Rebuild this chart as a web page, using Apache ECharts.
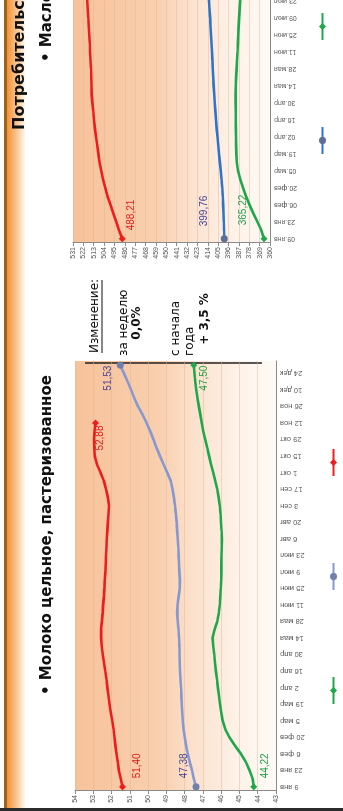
<!DOCTYPE html>
<html>
<head>
<meta charset="utf-8">
<script src="https://cdn.jsdelivr.net/npm/echarts@6/dist/echarts.min.js"></script>
<style>
  html, body { margin: 0; padding: 0; width: 343px; height: 811px; overflow: hidden; background: #fff; }
  /* the slide is laid out landscape and turned a quarter turn to stand upright */
  #slide { position: absolute; left: 0; top: 0; width: 811px; height: 343px;
           transform-origin: 0 0; transform: translateY(811px) rotate(-90deg); }
</style>
</head>
<body>
<div id="slide"></div>
<script>
// Weekly dates (Mondays) for the milk chart
const milkWeeks = ['9 янв','16 янв','23 янв','30 янв','6 фев','13 фев','20 фев','27 фев','5 мар','12 мар','19 мар','26 мар',
  '2 апр','9 апр','16 апр','23 апр','30 апр','7 мая','14 мая','21 мая','28 мая','4 июн','11 июн','18 июн','25 июн',
  '2 июл','9 июл','16 июл','23 июл','30 июл','6 авг','13 авг','20 авг','27 авг','3 сен','10 сен','17 сен','24 сен',
  '1 окт','8 окт','15 окт','22 окт','29 окт','5 ноя','12 ноя','19 ноя','26 ноя','3 дек','10 дек','17 дек','24 дек','31 дек'];

// Weekly dates for the butter chart
const butterWeeks = ['09.янв','16.янв','23.янв','30.янв','06.фев','13.фев','20.фев','27.фев','05.мар','12.мар','19.мар','26.мар',
  '02.апр','09.апр','16.апр','23.апр','30.апр','07.мая','14.мая','21.мая','28.мая','04.июн','11.июн','18.июн','25.июн',
  '02.июл','09.июл','16.июл','23.июл','30.июл','06.авг','13.авг','20.авг','27.авг','03.сен','10.сен','17.сен','24.сен',
  '01.окт','08.окт','15.окт','22.окт','29.окт','05.ноя','12.ноя','19.ноя','26.ноя','03.дек','10.дек','17.дек','24.дек','31.дек'];

// Milk, rub. per litre
const milkRed = [51.40,51.50,51.60,51.66,51.73,51.79,51.84,51.89,51.96,52.04,52.11,52.17,52.23,52.28,52.34,52.41,
  52.48,52.54,52.57,52.58,52.53,52.49,52.46,52.42,52.39,52.37,52.34,52.32,52.30,52.28,52.26,52.23,52.20,52.17,
  52.14,52.20,52.30,52.42,52.60,52.80,52.92,52.95,52.96,52.93,52.88];
const milkBlue = [47.38,47.50,47.60,47.72,47.83,47.92,47.99,48.06,48.10,48.13,48.16,48.18,48.20,48.23,48.25,48.27,
  48.28,48.29,48.31,48.34,48.38,48.41,48.39,48.33,48.27,48.26,48.29,48.31,48.33,48.35,48.38,48.41,48.44,48.48,
  48.53,48.59,48.66,48.76,48.95,49.15,49.35,49.54,49.70,49.88,50.08,50.30,50.55,50.75,50.93,51.12,51.32,51.53];
const milkGreen = [44.22,44.28,44.45,44.65,44.92,45.25,45.55,45.78,45.92,46.00,46.06,46.12,46.18,46.23,46.29,46.34,
  46.38,46.43,46.47,46.36,46.22,46.13,46.08,46.05,46.02,46.00,45.99,45.99,45.98,45.97,45.96,45.98,46.01,46.04,
  46.08,46.14,46.22,46.32,46.44,46.56,46.66,46.76,46.87,46.98,47.06,47.14,47.22,47.30,47.36,47.42,47.46,47.50];

// Butter, rub. per kg
const butterRed = [488.21,491.0,493.5,496.0,498.5,501.0,503.0,505.0,506.5,508.0,509.0,510.0,511.0,512.0,512.8,
  513.4,514.2,514.8,515.0,515.2,515.4,515.8,516.2,516.5,516.9,517.3,517.7,518.2,518.6,519.0,519.3];
const butterBlue = [399.76,399.9,400.1,400.4,400.7,401.0,401.5,402.1,402.8,403.5,404.2,404.9,405.6,406.3,406.9,
  407.4,407.9,408.4,408.9,409.3,409.7,410.0,410.4,410.8,411.2,411.6,412.0,412.5,413.0,413.3,413.7];
const butterGreen = [365.22,367.5,371.0,374.5,377.8,380.8,383.5,385.8,387.8,388.8,389.2,389.4,389.5,389.6,389.7,
  389.7,389.8,389.8,389.7,389.4,389.0,388.6,388.2,387.9,387.6,387.2,386.8,386.4,385.9,385.4,385.0];

const FONT = 'Liberation Sans';
const fmt = v => v.toFixed(2).replace('.', ',');

const plotFill = {
  type: 'linear', x: 0, y: 0, x2: 0, y2: 1,
  colorStops: [
    { offset: 0, color: '#f7c29a' },
    { offset: 0.42, color: '#f9cfae' },
    { offset: 0.6, color: '#fce2ce' },
    { offset: 0.8, color: '#fef1e7' },
    { offset: 1, color: '#fffaf6' }
  ]
};

function lineSeries(cfg) {
  const last = cfg.values.length - 1;
  const data = cfg.values.map((v, i) => {
    if (i === 0) return { value: v, label: Object.assign({ show: true }, cfg.first) };
    if (i === last && cfg.last) return { value: v, label: Object.assign({ show: true }, cfg.last) };
    return v;
  });
  return {
    type: 'line', name: cfg.name, xAxisIndex: cfg.axis, yAxisIndex: cfg.axis,
    data: data,
    symbol: cfg.symbol,
    symbolSize: (v, p) => (p.dataIndex === 0 || (p.dataIndex === last && cfg.last)) ? 7 : 0,
    showAllSymbol: true,
    lineStyle: { color: cfg.color, width: 2.6 },
    itemStyle: { color: cfg.markColor || cfg.color },
    label: { show: false, formatter: p => fmt(p.value), color: cfg.labelColor,
             fontSize: 10, fontFamily: FONT },
    emphasis: { disabled: true },
    z: 3
  };
}

function catAxis(grid, cats, size) {
  return {
    type: 'category', gridIndex: grid, data: cats, boundaryGap: true,
    axisLine: { lineStyle: { color: '#8a8a8a', width: 1 } },
    axisTick: { interval: 0, length: 3, lineStyle: { color: '#8a8a8a' } },
    axisLabel: { interval: 1, rotate: 90, fontSize: size, color: '#555', fontFamily: FONT, margin: 4 }
  };
}

function valAxis(grid, min, max, step) {
  return {
    type: 'value', gridIndex: grid, min: min, max: max, interval: step,
    axisLine: { show: true, lineStyle: { color: '#8a8a8a' } },
    axisTick: { show: true, length: 3, lineStyle: { color: '#8a8a8a' } },
    axisLabel: { fontSize: 7, color: '#555', fontFamily: FONT, margin: 4 },
    splitLine: { show: true, lineStyle: { color: 'rgba(225,180,150,0.45)', width: 1 } }
  };
}

const chart = echarts.init(document.getElementById('slide'), null, { renderer: 'canvas', width: 811, height: 343 });

chart.setOption({
  animation: false,
  backgroundColor: '#ffffff',
  grid: [
    { left: 20, top: 75, width: 430, height: 201, show: true, backgroundColor: plotFill, borderWidth: 0,
      outerBoundsMode: 'none', containLabel: false },
    // the butter chart runs on past the right edge of the slide
    { left: 568, top: 73, width: 442, height: 197, show: true, backgroundColor: plotFill, borderWidth: 0,
      outerBoundsMode: 'none', containLabel: false }
  ],
  xAxis: [catAxis(0, milkWeeks, 7.5), catAxis(1, butterWeeks, 7)],
  yAxis: [valAxis(0, 43, 54, 1), valAxis(1, 360, 531, 9)],
  legend: [
    { left: 101, top: 324, itemWidth: 27, itemHeight: 9, itemGap: 85, formatter: () => '',
      data: ['Молоко, ряд 3', 'Молоко, ряд 2', 'Молоко, ряд 1'], selectedMode: false },
    { left: 651, top: 313, itemWidth: 27, itemHeight: 9, itemGap: 85, formatter: () => '',
      data: ['Масло, ряд 2', 'Масло, ряд 3'], selectedMode: false }
  ],
  series: [
    lineSeries({ name: 'Молоко, ряд 1', axis: 0, values: milkRed, color: '#ee1d1d', labelColor: '#e0201e', symbol: 'diamond',
      first: { position: 'right', offset: [0, 15] }, last: { position: 'left', offset: [6, 5] } }),
    lineSeries({ name: 'Молоко, ряд 2', axis: 0, values: milkBlue, color: '#8598d0', markColor: '#6f7fae', labelColor: '#45459a', symbol: 'circle',
      first: { position: 'right', offset: [0, -12] }, last: { position: 'left', offset: [8, -12] } }),
    lineSeries({ name: 'Молоко, ряд 3', axis: 0, values: milkGreen, color: '#1ea84a', labelColor: '#1f9e48', symbol: 'diamond',
      first: { position: 'right', offset: [0, 12] }, last: { position: 'left', offset: [8, 10] } }),
    lineSeries({ name: 'Масло, ряд 1', axis: 1, values: butterRed, color: '#ee1d1d', labelColor: '#e0201e', symbol: 'diamond',
      first: { position: 'right', offset: [0, 9] } }),
    lineSeries({ name: 'Масло, ряд 2', axis: 1, values: butterBlue, color: '#2f74c8', markColor: '#5a6f9a', labelColor: '#3d3d98', symbol: 'circle',
      first: { position: 'right', offset: [4, -20] } }),
    lineSeries({ name: 'Масло, ряд 3', axis: 1, values: butterGreen, color: '#1ea84a', labelColor: '#1f9e48', symbol: 'diamond',
      first: { position: 'right', offset: [5, -21] } })
  ],
  graphic: [
    // header band
    { type: 'rect', shape: { x: 0, y: 4, width: 811, height: 3 }, style: { fill: '#9c6418' }, silent: true },
    { type: 'rect', shape: { x: 0, y: 7, width: 811, height: 19 }, silent: true,
      style: { fill: { type: 'linear', x: 0, y: 0, x2: 0, y2: 1,
        colorStops: [{ offset: 0, color: '#f39238' }, { offset: 0.5, color: '#f9c48e' }, { offset: 1, color: '#ffffff' }] } } },
    { type: 'rect', shape: { x: 0, y: 0, width: 3, height: 343 }, style: { fill: '#2b2b2b' }, silent: true },
    { type: 'text', x: 681, y: 20, silent: true,
      style: { text: 'Потребительские цены', font: 'bold 16px "DejaVu Sans"', fill: '#111', verticalAlign: 'middle' } },
    { type: 'text', x: 116, y: 47, silent: true,
      style: { text: '• Молоко цельное, пастеризованное', font: 'bold 15px "DejaVu Sans"', fill: '#111', verticalAlign: 'middle' } },
    { type: 'text', x: 749, y: 47, silent: true,
      style: { text: '• Масло сливочное', font: 'bold 15px "DejaVu Sans"', fill: '#111', verticalAlign: 'middle' } },
    // weekly / year-to-date change note
    { type: 'line', shape: { x1: 448, y1: 85, x2: 448, y2: 262 }, style: { stroke: '#222', lineWidth: 1.5 }, silent: true },
    { type: 'text', x: 458, y: 95, silent: true,
      style: { text: 'Изменение:', font: '12px "DejaVu Sans"', fill: '#111', verticalAlign: 'middle' } },
    { type: 'line', shape: { x1: 458, y1: 102, x2: 531, y2: 102 }, style: { stroke: '#111', lineWidth: 1 }, silent: true },
    { type: 'text', x: 455, y: 124, silent: true,
      style: { text: 'за неделю', font: '12px "DejaVu Sans"', fill: '#111', verticalAlign: 'middle' } },
    { type: 'text', x: 488, y: 137, silent: true,
      style: { text: '0,0%', font: 'bold 12px "DejaVu Sans"', fill: '#111', verticalAlign: 'middle', align: 'center' } },
    { type: 'text', x: 455, y: 176, silent: true,
      style: { text: 'с начала', font: '12px "DejaVu Sans"', fill: '#111', verticalAlign: 'middle' } },
    { type: 'text', x: 455, y: 190, silent: true,
      style: { text: 'года', font: '12px "DejaVu Sans"', fill: '#111', verticalAlign: 'middle' } },
    { type: 'text', x: 492, y: 205, silent: true,
      style: { text: '+ 3,5 %', font: 'bold 12px "DejaVu Sans"', fill: '#111', verticalAlign: 'middle', align: 'center' } }
  ]
});
</script>
</body>
</html>
